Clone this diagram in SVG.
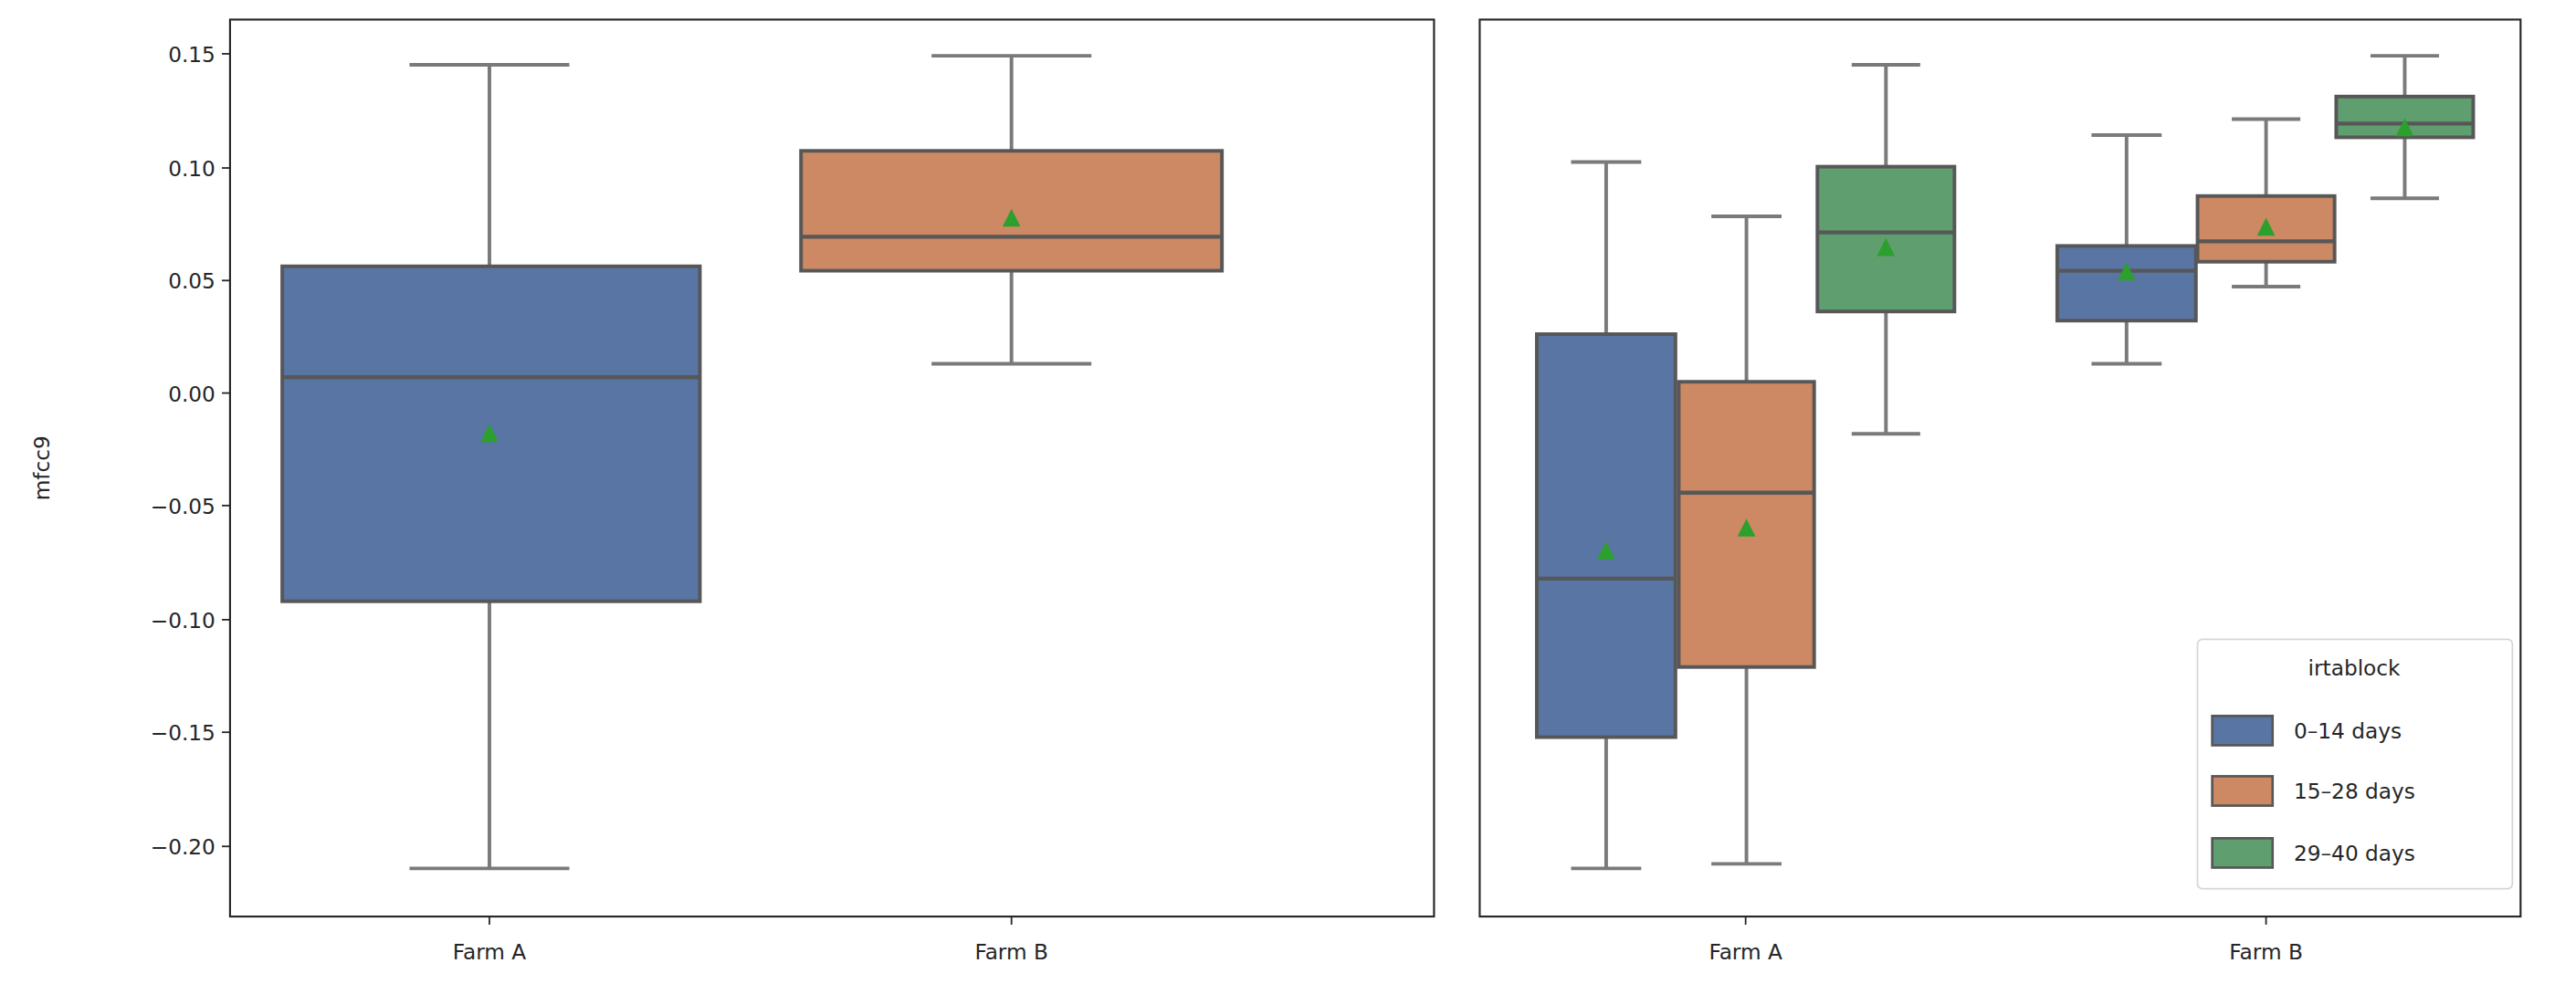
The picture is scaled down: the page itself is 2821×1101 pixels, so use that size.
<svg xmlns="http://www.w3.org/2000/svg" width="2821" height="1101" viewBox="0 0 2821 1101">
<style>
.ax{fill:none;stroke:#262626;stroke-width:1.2}
.tk{stroke:#262626;stroke-width:1}
.t{font-family:"DejaVu Sans",sans-serif;font-size:13px;fill:#262626}
.w{stroke:#7a7a7a;stroke-width:2.2;fill:none}
.b{stroke:#575757;stroke-width:2.2}
.m{stroke:#575757;stroke-width:2.4}
.mean{fill:#2ca02c}
.c0{fill:#5875a4}.c1{fill:#cc8963}.c2{fill:#5f9e6e}
</style>
<rect width="2821" height="1101" fill="#fff"/>
<g transform="scale(1.7866)">
<g id="left-axes">
<rect class="ax" x="141" y="12" width="738" height="550"/>
<g class="tk"><line x1="136" x2="141" y1="33" y2="33"/><line x1="136" x2="141" y1="103" y2="103"/><line x1="136" x2="141" y1="172" y2="172"/><line x1="136" x2="141" y1="241" y2="241"/><line x1="136" x2="141" y1="310" y2="310"/><line x1="136" x2="141" y1="380" y2="380"/><line x1="136" x2="141" y1="449" y2="449"/><line x1="136" x2="141" y1="519" y2="519"/>
<line x1="300" x2="300" y1="562" y2="567"/><line x1="620" x2="620" y1="562" y2="567"/></g>
<g class="t" text-anchor="end"><text x="132" y="38">0.15</text><text x="132" y="108">0.10</text><text x="132" y="177">0.05</text><text x="132" y="246">0.00</text><text x="132" y="315">−0.05</text><text x="132" y="385">−0.10</text><text x="132" y="454">−0.15</text><text x="132" y="524">−0.20</text></g>
<text class="t" transform="translate(30,287) rotate(-90)" text-anchor="middle">mfcc9</text>
<text class="t" x="300" y="588" text-anchor="middle">Farm A</text>
<text class="t" x="620" y="588" text-anchor="middle">Farm B</text>
</g>
<g id="box-L-A"><path class="w" d="M300 163.3V39.7M251 39.7H349M300 368.7V532.5M251 532.5H349"/><rect class="c0 b" x="173" y="163.3" width="256" height="205.4"/><line class="m" x1="173" x2="429" y1="231.3" y2="231.3"/><path class="mean" d="M300 260L294.5 271H305.5Z"/></g>
<g id="box-L-B"><path class="w" d="M620 92.5V34.2M571 34.2H669M620 166V223M571 223H669"/><rect class="c1 b" x="491" y="92.5" width="258" height="73.5"/><line class="m" x1="491" x2="749" y1="145.2" y2="145.2"/><path class="mean" d="M620 128L614.5 139H625.5Z"/></g>

<g id="right-axes">
<rect class="ax" x="907" y="12" width="638" height="550"/>
<g class="tk"><line x1="1070" x2="1070" y1="562" y2="567"/><line x1="1389" x2="1389" y1="562" y2="567"/></g>
<text class="t" x="1070" y="588" text-anchor="middle">Farm A</text>
<text class="t" x="1389" y="588" text-anchor="middle">Farm B</text>
</g>
<g id="box-R-A0"><path class="w" d="M984.5 204.9V99.4M963 99.4H1006M984.5 452V532.5M963 532.5H1006"/><rect class="c0 b" x="942" y="204.9" width="85" height="247.1"/><line class="m" x1="942" x2="1027" y1="354.8" y2="354.8"/><path class="mean" d="M984.5 332L979 343H990Z"/></g>
<g id="box-R-A1"><path class="w" d="M1070.5 234.1V132.7M1049 132.7H1092M1070.5 409V529.7M1049 529.7H1092"/><rect class="c1 b" x="1029" y="234.1" width="83" height="174.9"/><line class="m" x1="1029" x2="1112" y1="302.1" y2="302.1"/><path class="mean" d="M1070.5 318L1065 329H1076Z"/></g>
<g id="box-R-A2"><path class="w" d="M1156 102.2V39.7M1135 39.7H1177M1156 191V266M1135 266H1177"/><rect class="c2 b" x="1114" y="102.2" width="84" height="88.8"/><line class="m" x1="1114" x2="1198" y1="142.5" y2="142.5"/><path class="mean" d="M1156 146L1150.5 157H1161.5Z"/></g>
<g id="box-R-B0"><path class="w" d="M1303.5 150.8V82.8M1282 82.8H1325M1303.5 196.6V223M1282 223H1325"/><rect class="c0 b" x="1261" y="150.8" width="85" height="45.8"/><line class="m" x1="1261" x2="1346" y1="166" y2="166"/><path class="mean" d="M1303.5 161L1298 172H1309Z"/></g>
<g id="box-R-B1"><path class="w" d="M1389 120.2V73M1368 73H1410M1389 160.5V175.8M1368 175.8H1410"/><rect class="c1 b" x="1347" y="120.2" width="84" height="40.3"/><line class="m" x1="1347" x2="1431" y1="148" y2="148"/><path class="mean" d="M1389 133.5L1383.5 144.5H1394.5Z"/></g>
<g id="box-R-B2"><path class="w" d="M1474 59.2V34.2M1453 34.2H1495M1474 84.2V121.6M1453 121.6H1495"/><rect class="c2 b" x="1432" y="59.2" width="84" height="25"/><line class="m" x1="1432" x2="1516" y1="75.8" y2="75.8"/><path class="mean" d="M1474 72.5L1468.5 83.5H1479.5Z"/></g>

<g id="legend">
<rect x="1347" y="392" width="193" height="153" rx="3" fill="#fff" fill-opacity="0.85" stroke="#d6d6d6" stroke-width="1"/>
<text class="t" x="1443" y="414" text-anchor="middle">irtablock</text>
<rect class="c0" x="1356" y="439" width="37" height="18" stroke="#575757" stroke-width="1.5"/>
<rect class="c1" x="1356" y="476" width="37" height="18" stroke="#575757" stroke-width="1.5"/>
<rect class="c2" x="1356" y="514" width="37" height="18" stroke="#575757" stroke-width="1.5"/>
<text class="t" x="1406" y="453">0–14 days</text>
<text class="t" x="1406" y="490">15–28 days</text>
<text class="t" x="1406" y="528">29–40 days</text>
</g>
</g>
</svg>
